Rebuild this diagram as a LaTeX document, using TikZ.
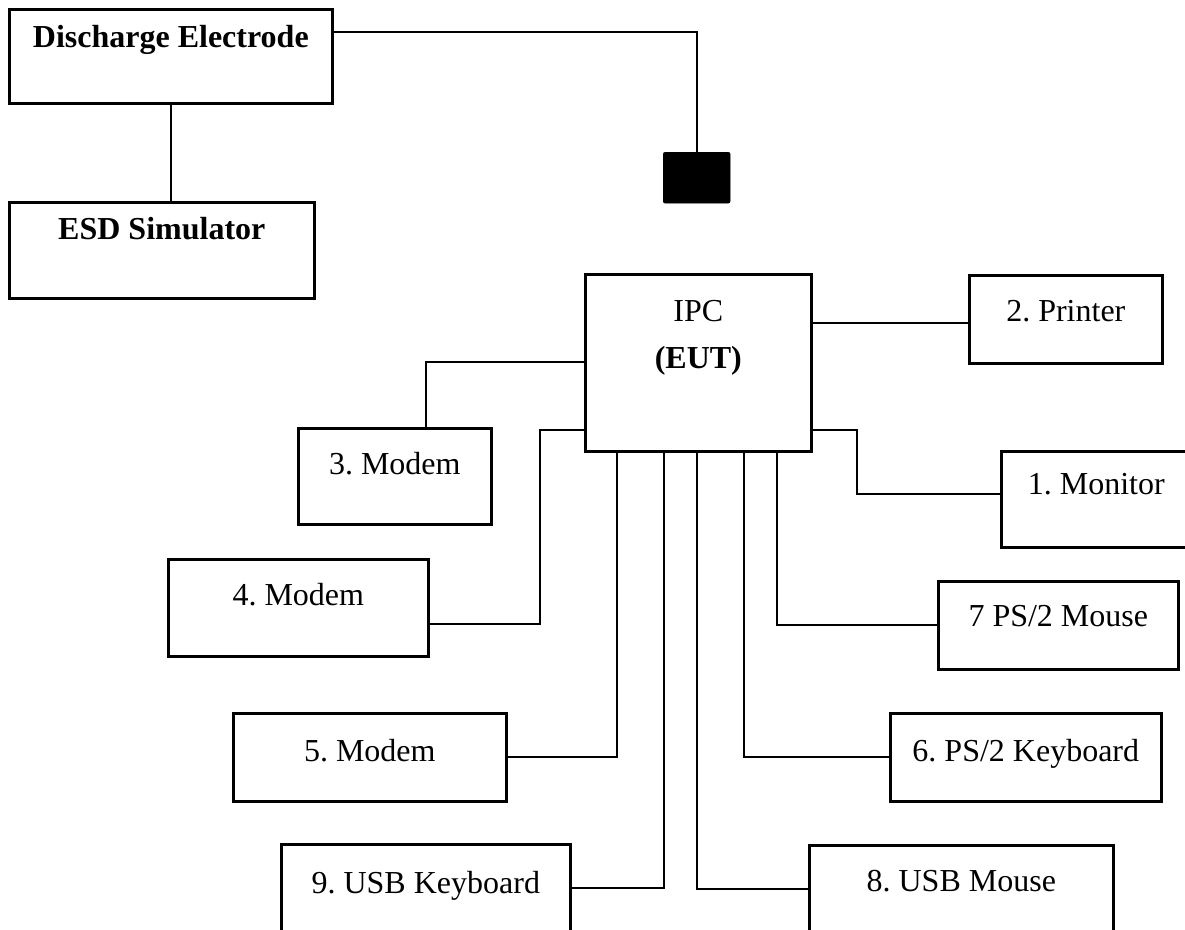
\documentclass[tikz,border=0pt]{standalone}
\usepackage{fontspec}
\setmainfont{Liberation Serif}
\frenchspacing

\begin{document}
\begin{tikzpicture}[
  x=1pt,y=-1pt,
  wire/.style={line width=2pt},
  unit/.style={draw,line width=2.6pt,inner sep=0pt,anchor=north west,
    font=\fontsize{32}{47}\selectfont},
  boldunit/.style={unit,font=\fontsize{32}{47}\selectfont\bfseries},
  probe/.style={draw,fill=black,rounded corners=2pt,inner sep=0pt,
    anchor=north west,minimum width=67pt,minimum height=51pt}]
\clip (0,0) rectangle (1185,929);
\node[boldunit,minimum width=323pt,text height=38pt,text depth=56pt] (electrode) at (8,8) {Discharge Electrode};
\node[boldunit,minimum width=305pt,text height=37pt,text depth=59pt] (simulator) at (8,201) {ESD Simulator};
\node[probe] (tip) at (663,152) {};
\node[unit,minimum width=226pt,text height=47pt,text depth=130pt] (ipc) at (584,273)
 {\begin{tabular}[t]{@{}c@{}}IPC\\\textbf{(EUT)}\end{tabular}};
\node[unit,minimum width=193pt,text height=46pt,text depth=42pt] (printer) at (968,274) {2. Printer};
\node[unit,minimum width=190pt,text height=43pt,text depth=53pt] (monitor) at (1000,450) {1. Monitor};
\node[unit,minimum width=240pt,text height=45pt,text depth=43pt] (psmouse) at (937,580) {7 PS/2 Mouse};
\node[unit,minimum width=271pt,text height=48pt,text depth=40pt] (pskeyboard) at (889,712) {6. PS/2 Keyboard};
\node[unit,minimum width=304pt,text height=46pt,text depth=42pt] (usbmouse) at (808,844) {8. USB Mouse};
\node[unit,minimum width=289pt,text height=49pt,text depth=39pt] (usbkeyboard) at (280,843) {9. USB Keyboard};
\node[unit,minimum width=273pt,text height=48pt,text depth=40pt] (modemv) at (232,712) {5. Modem};
\node[unit,minimum width=260pt,text height=46pt,text depth=51pt] (modemiv) at (167,558) {4. Modem};
\node[unit,minimum width=193pt,text height=46pt,text depth=50pt] (modemiii) at (297,427) {3. Modem};
% test set side
\draw[wire] (electrode.south) -- (electrode.south |- simulator.north);
\draw[wire] ([yshift=-24pt]electrode.north east) -| (tip.north);
% peripherals round the EUT
\draw[wire] ([yshift=-4pt]printer.west -| ipc.east) -- ([yshift=-4pt]printer.west);
\draw[wire] ([yshift=23pt]ipc.south east) -| ([xshift=-143pt,yshift=5pt]monitor.west) -- ([yshift=5pt]monitor.west);
\draw[wire] ([yshift=-89pt]ipc.north west) -| ([xshift=31.5pt]modemiii.north);
\draw[wire] ([yshift=23pt]ipc.south west) -| ([xshift=110pt,yshift=-16.5pt]modemiv.east) -- ([yshift=-16.5pt]modemiv.east);
\draw[wire] ([xshift=33pt]ipc.south west) |- (modemv.east);
\draw[wire] ([xshift=80pt]ipc.south west) |- (usbkeyboard.east);
\draw[wire] ([xshift=113pt]ipc.south west) |- (usbmouse.west);
\draw[wire] ([xshift=160pt]ipc.south west) |- (pskeyboard.west);
\draw[wire] ([xshift=193pt]ipc.south west) |- (psmouse.west);
\end{tikzpicture}
\end{document}
